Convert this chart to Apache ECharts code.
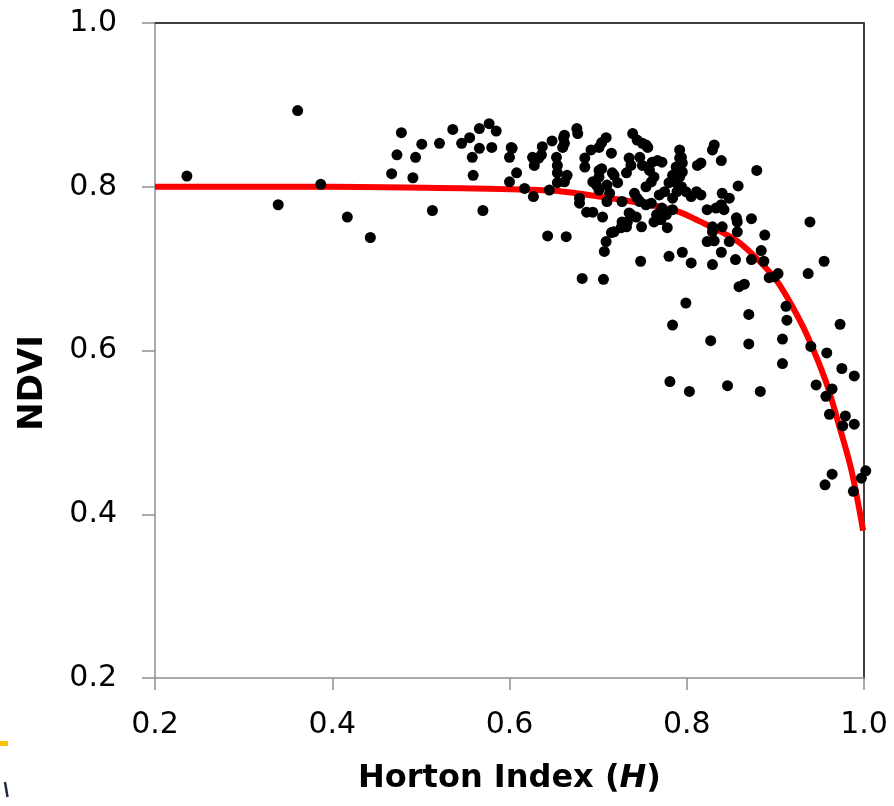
<!DOCTYPE html>
<html>
<head>
<meta charset="utf-8">
<title>NDVI vs Horton Index</title>
<script src="https://cdn.jsdelivr.net/npm/echarts@6/dist/echarts.min.js"></script>
<style>
  html, body { margin: 0; padding: 0; background: #fff; }
  #chart { width: 894px; height: 806px; }
</style>
</head>
<body>
<div id="chart"></div>
<script>
// observed points (Horton index H, NDVI)
var hortonIndex = [
  0.236, 0.361, 0.339, 0.387, 0.417, 0.443, 0.467, 0.491, 0.473, 0.494,
  0.478, 0.501, 0.513, 0.521, 0.536, 0.546, 0.555, 0.558, 0.566, 0.577,
  0.585, 0.566, 0.580, 0.559, 0.570, 0.602, 0.600, 0.608, 0.600, 0.617,
  0.627, 0.626, 0.633, 0.628, 0.636, 0.637, 0.648, 0.661, 0.660, 0.653,
  0.654, 0.654, 0.645, 0.654, 0.662, 0.665, 0.643, 0.664, 0.676, 0.677,
  0.679, 0.679, 0.687, 0.694, 0.682, 0.706, 0.685, 0.685, 0.692, 0.701,
  0.704, 0.709, 0.715, 0.701, 0.701, 0.694, 0.698, 0.701, 0.710, 0.713,
  0.710, 0.718, 0.722, 0.705, 0.709, 0.707, 0.715, 0.727, 0.727, 0.726,
  0.732, 0.737, 0.735, 0.739, 0.744, 0.750, 0.756, 0.747, 0.750, 0.741,
  0.744, 0.747, 0.737, 0.733, 0.732, 0.749, 0.748, 0.754, 0.760, 0.763,
  0.761, 0.767, 0.772, 0.754, 0.760, 0.766, 0.772, 0.777, 0.778, 0.763,
  0.769, 0.775, 0.784, 0.780, 0.784, 0.788, 0.792, 0.792, 0.794, 0.799,
  0.780, 0.795, 0.805, 0.811, 0.812, 0.758, 0.743, 0.771, 0.795, 0.789,
  0.784, 0.805, 0.792, 0.816, 0.831, 0.829, 0.816, 0.839, 0.879, 0.858,
  0.840, 0.848, 0.839, 0.842, 0.823, 0.833, 0.856, 0.857, 0.873, 0.829,
  0.829, 0.840, 0.823, 0.831, 0.857, 0.848, 0.888, 0.939, 0.829, 0.839,
  0.855, 0.873, 0.884, 0.887, 0.955, 0.893, 0.899, 0.903, 0.937, 0.859,
  0.865, 0.799, 0.912, 0.913, 0.870, 0.973, 0.827, 0.870, 0.908, 0.908,
  0.784, 0.940, 0.958, 0.975, 0.989, 0.781, 0.803, 0.846, 0.883, 0.946,
  0.964, 0.957, 0.961, 0.979, 0.976, 0.989, 0.964, 0.956, 1.002, 0.997,
  0.988, 0.662, 0.662, 0.716, 0.754, 0.794, 0.795, 0.788, 0.718, 0.735,
  0.769, 0.704, 0.603
];
var ndvi = [
  0.813, 0.893, 0.778, 0.803, 0.763, 0.738, 0.816, 0.811, 0.839, 0.836,
  0.866, 0.852, 0.771, 0.853, 0.870, 0.853, 0.860, 0.836, 0.871, 0.877,
  0.868, 0.847, 0.848, 0.814, 0.771, 0.848, 0.836, 0.817, 0.806, 0.798,
  0.788, 0.836, 0.835, 0.826, 0.839, 0.849, 0.856, 0.860, 0.848, 0.836,
  0.826, 0.817, 0.796, 0.805, 0.806, 0.814, 0.740, 0.739, 0.871, 0.865,
  0.786, 0.780, 0.769, 0.769, 0.688, 0.687, 0.835, 0.824, 0.845, 0.848,
  0.854, 0.860, 0.841, 0.820, 0.812, 0.806, 0.802, 0.796, 0.802, 0.792,
  0.782, 0.814, 0.805, 0.763, 0.733, 0.721, 0.744, 0.782, 0.757, 0.750,
  0.817, 0.826, 0.835, 0.865, 0.857, 0.853, 0.848, 0.836, 0.826, 0.792,
  0.786, 0.782, 0.766, 0.757, 0.751, 0.751, 0.709, 0.800, 0.806, 0.812,
  0.830, 0.832, 0.830, 0.778, 0.780, 0.766, 0.774, 0.766, 0.750, 0.757,
  0.790, 0.794, 0.772, 0.805, 0.814, 0.824, 0.835, 0.845, 0.800, 0.794,
  0.715, 0.720, 0.707, 0.794, 0.826, 0.820, 0.763, 0.760, 0.818, 0.794,
  0.786, 0.788, 0.812, 0.790, 0.851, 0.845, 0.829, 0.832, 0.820, 0.801,
  0.792, 0.786, 0.778, 0.772, 0.772, 0.774, 0.762, 0.757, 0.761, 0.751,
  0.745, 0.751, 0.733, 0.734, 0.745, 0.733, 0.741, 0.757, 0.705, 0.720,
  0.711, 0.711, 0.722, 0.709, 0.709, 0.689, 0.690, 0.694, 0.694, 0.678,
  0.681, 0.658, 0.654, 0.637, 0.644, 0.632, 0.612, 0.608, 0.614, 0.584,
  0.631, 0.605, 0.597, 0.578, 0.569, 0.562, 0.550, 0.557, 0.550, 0.558,
  0.553, 0.544, 0.522, 0.520, 0.508, 0.510, 0.449, 0.436, 0.453, 0.444,
  0.428, 0.863, 0.853, 0.817, 0.851, 0.836, 0.829, 0.805, 0.745, 0.768,
  0.760, 0.822, 0.847
];

// fitted curve
var fitH = [0.2, 0.4, 0.6, 0.651, 0.701, 0.758, 0.792, 0.814, 0.837, 0.859, 0.882, 0.901, 0.919, 0.936, 0.957, 0.972, 0.986, 0.999];
var fitNdvi = [0.800, 0.800, 0.797, 0.795, 0.788, 0.778, 0.769, 0.758, 0.746, 0.732, 0.709, 0.686, 0.654, 0.618, 0.562, 0.508, 0.453, 0.380];

var xTicks = [0.2, 0.4, 0.6, 0.8, 1.0];
var yTicks = [0.2, 0.4, 0.6, 0.8, 1.0];

var tickFont = 'DejaVu Sans';
var titleFont = 'DejaVu Sans';

var points = hortonIndex.map(function (h, i) { return [h, ndvi[i]] });
var fit = fitH.map(function (h, i) { return [h, fitNdvi[i]] });

var chart = echarts.init(document.getElementById('chart'), null, { renderer: 'canvas' });

chart.setOption({
  animation: false,
  backgroundColor: '#fff',
  grid: {
    left: 155,
    right: 30,
    top: 23,
    bottom: 128,
    outerBoundsMode: 'none'
  },
  xAxis: [{
    type: 'value',
    min: xTicks[0],
    max: xTicks[xTicks.length - 1],
    interval: 0.2,
    splitLine: { show: false },
    axisLine: { lineStyle: { color: '#8f8f8f', width: 1.5 } },
    axisTick: { show: true, inside: false, length: 12, lineStyle: { color: '#8f8f8f', width: 1.5 } },
    axisLabel: {
      margin: 32,
      fontFamily: tickFont,
      fontSize: 30,
      color: '#000',
      formatter: function (v) { return v.toFixed(1) }
    },
    name: 'Horton Index ({i|H})',
    nameLocation: 'middle',
    nameGap: 85,
    nameTextStyle: {
      fontFamily: titleFont,
      fontWeight: 'bold',
      fontSize: 32,
      color: '#000',
      rich: {
        i: { fontFamily: titleFont, fontWeight: 'bold', fontStyle: 'italic', fontSize: 32, color: '#000' }
      }
    }
  }, {
    // top frame line
    type: 'value',
    position: 'top',
    min: xTicks[0],
    max: xTicks[xTicks.length - 1],
    interval: 0.2,
    splitLine: { show: false },
    axisTick: { show: false },
    axisLabel: { show: false },
    axisLine: { show: true, lineStyle: { color: '#404040', width: 2 } }
  }],
  yAxis: [{
    type: 'value',
    min: yTicks[0],
    max: yTicks[yTicks.length - 1],
    interval: 0.2,
    splitLine: { show: false },
    axisLine: { show: true, lineStyle: { color: '#8f8f8f', width: 1.5 } },
    axisTick: { show: true, inside: false, length: 13, lineStyle: { color: '#8f8f8f', width: 1.5 } },
    axisLabel: {
      margin: 38,
      fontFamily: tickFont,
      fontSize: 30,
      color: '#000',
      formatter: function (v) { return v.toFixed(1) }
    }
  }, {
    // right frame line
    type: 'value',
    position: 'right',
    min: yTicks[0],
    max: yTicks[yTicks.length - 1],
    interval: 0.2,
    splitLine: { show: false },
    axisTick: { show: false },
    axisLabel: { show: false },
    axisLine: { show: true, lineStyle: { color: '#404040', width: 2 } }
  }],
  graphic: [{
    type: 'text',
    x: 33,
    y: 383,
    rotation: Math.PI / 2,
    style: {
      text: 'NDVI',
      fontFamily: titleFont,
      fontWeight: 'bold',
      fontSize: 34,
      fill: '#000',
      align: 'center',
      verticalAlign: 'middle'
    }
  }, {
    // bits of the neighbouring slide at the left edge
    type: 'rect',
    shape: { x: 0, y: 741, width: 8, height: 5 },
    style: { fill: '#ffc000' }
  }, {
    type: 'line',
    shape: { x1: 5, y1: 782, x2: 7.5, y2: 797 },
    style: { stroke: '#1f2a44', lineWidth: 2.5 }
  }],
  series: [{
    name: 'fit',
    type: 'line',
    data: fit,
    smooth: 0.3,
    symbol: 'none',
    lineStyle: { color: '#ff0000', width: 6 },
    z: 2
  }, {
    name: 'NDVI',
    type: 'scatter',
    data: points,
    symbol: 'circle',
    symbolSize: 11,
    clip: false,
    itemStyle: { color: '#000', opacity: 1 },
    z: 3
  }]
});
</script>
</body>
</html>
